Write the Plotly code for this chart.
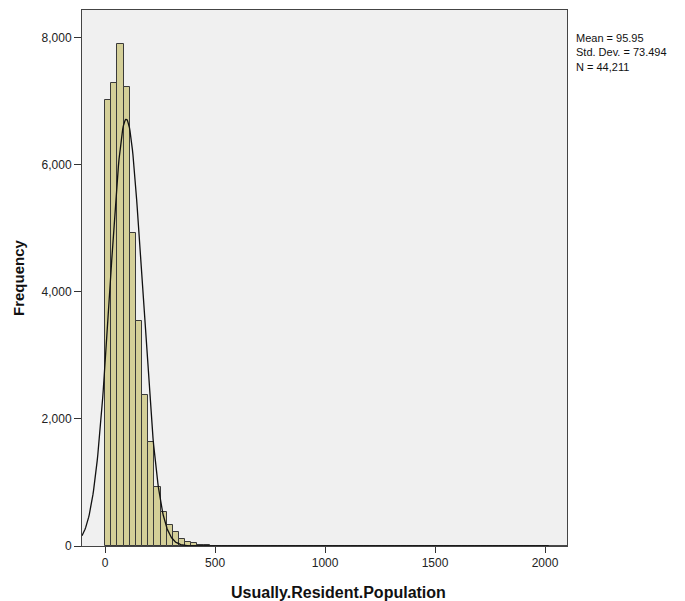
import numpy as np
import plotly.graph_objects as go

# Histogram data (bin width ~28, starting at 0)
bin_width = 28
bin_counts = [7024, 7296, 7906, 7224, 4924, 3548, 2378, 1643, 924, 530,
              330, 220, 105, 68, 40, 14, 9, 6, 4, 3,
              2, 2, 1, 1, 1, 1, 1, 0, 1, 0,
              1, 0, 0, 1, 0, 0, 0, 1, 0, 0,
              0, 0, 1, 0, 0, 0, 0, 0, 1, 0,
              0, 0, 0, 0, 0, 0, 0, 0, 1, 0,
              0, 0, 0, 0, 0, 0, 0, 0, 0, 0,
              0, 1]
bin_left = [i * bin_width for i in range(len(bin_counts))]

mean_val = 95.95
std_val = 73.494
n_val = 44211

x_range = [-105, 2100]
y_range = [0, 8440]
x_ticks = [0, 500, 1000, 1500, 2000]
y_ticks = [0, 2000, 4000, 6000, 8000]
y_tick_text = ["0", "2,000", "4,000", "6,000", "8,000"]

fig = go.Figure()
fig.add_trace(go.Bar(
    x=bin_left, y=bin_counts, width=bin_width, offset=0,
    marker=dict(color="#D4CF98", line=dict(color="#3a3a3a", width=1)),
    showlegend=False,
))

xs = np.linspace(x_range[0], x_range[1], 800)
ys = n_val * bin_width / (std_val * np.sqrt(2 * np.pi)) * np.exp(-0.5 * ((xs - mean_val) / std_val) ** 2)
fig.add_trace(go.Scatter(x=xs, y=ys, mode="lines",
                         line=dict(color="#111111", width=1.3), showlegend=False))

font = "Liberation Sans, Arial, sans-serif"
fig.update_layout(
    width=677, height=593,
    margin=dict(l=74, r=118, t=2, b=55),
    paper_bgcolor="white", plot_bgcolor="#F0F0F0",
    bargap=0,
    font=dict(family=font, size=12, color="#222"),
    xaxis=dict(range=x_range, tickvals=x_ticks, ticks="outside", ticklen=6,
               tickcolor="#333", showgrid=False, zeroline=False, automargin=False,
               showline=True, linecolor="#444", linewidth=1, mirror=True),
    yaxis=dict(range=y_range, tickvals=y_ticks, ticktext=y_tick_text,
               ticks="outside", ticklen=7, tickcolor="#333", automargin=False,
               showgrid=False, zeroline=False,
               showline=True, linecolor="#444", linewidth=1, mirror=True),
    annotations=[
        dict(xref="paper", yref="paper", x=1.015, y=0.963, xanchor="left", yanchor="top",
             align="left", showarrow=False,
             text=f"Mean = {mean_val}<br>Std. Dev. = {std_val}<br>N = {n_val:,}",
             font=dict(size=11, color="#111", family=font)),
        dict(xref="paper", yref="paper", x=0.5, y=0, xanchor="center", yanchor="middle",
             xshift=14, yshift=-46, showarrow=False, text="<b>Usually.Resident.Population</b>",
             font=dict(size=16, color="#111", family=font)),
        dict(xref="paper", yref="paper", x=0, y=0.5, xanchor="center", yanchor="middle",
             xshift=-64, textangle=-90, showarrow=False, text="<b>Frequency</b>",
             font=dict(size=15, color="#111", family=font)),
    ],
)

fig.write_html("out.html")
